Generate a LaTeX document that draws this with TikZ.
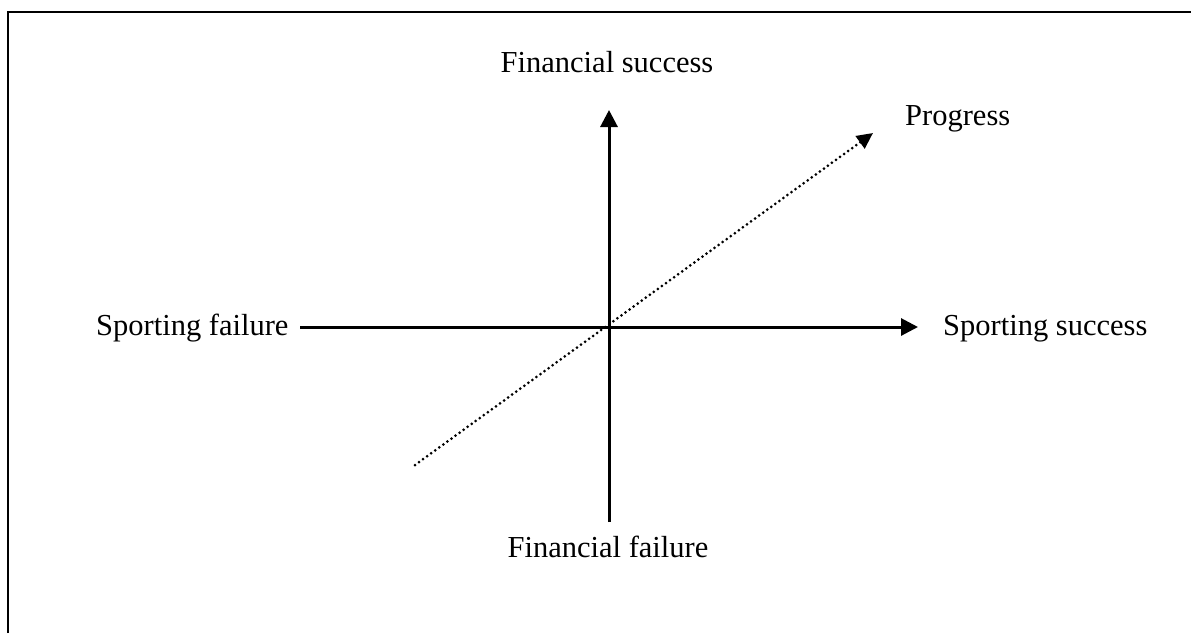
\documentclass[tikz,border=0pt]{standalone}
\usepackage{fontspec}
\setmainfont{Liberation Serif}
\usetikzlibrary{arrows.meta}
\begin{document}
\begin{tikzpicture}[x=1pt,y=-1pt,
  lbl/.style={inner sep=0pt,font=\fontsize{30.5}{37}\selectfont},
  axis/.style={line width=3pt,-{Triangle[length=17pt,width=17pt]}},
  prog/.style={line width=3pt,line cap=round,dash pattern=on 0pt off 5pt,
    -{Triangle[length=16pt,width=15pt,line cap=butt]}}]
\useasboundingbox (0,0) rectangle (1191,633);
\draw[line width=2.6pt] (8,633) -- (8,12) -- (1191,12);
% text
\node[lbl,anchor=base] (fs) at (607,72) {Financial success};
\node[lbl,anchor=base] (ff) at (608,557) {Financial failure};
\node[lbl,anchor=base west] (sf) at (96,335) {Sporting failure};
\node[lbl,anchor=base west] (ss) at (943,335) {Sporting success};
\node[lbl,anchor=base west] (pr) at (905,125) {Progress};
% axes
\coordinate (hl) at (300,327);
\coordinate (hr) at (918,327);
\coordinate (vb) at (609,522);
\coordinate (vt) at (609,110);
\coordinate (pl) at (415,465);
\coordinate (pt) at (873,133);
\draw[axis] (hl) -- (hr);
\draw[axis] (vb) -- (vt);
\draw[prog] (pl) -- (pt);
\end{tikzpicture}
\end{document}
